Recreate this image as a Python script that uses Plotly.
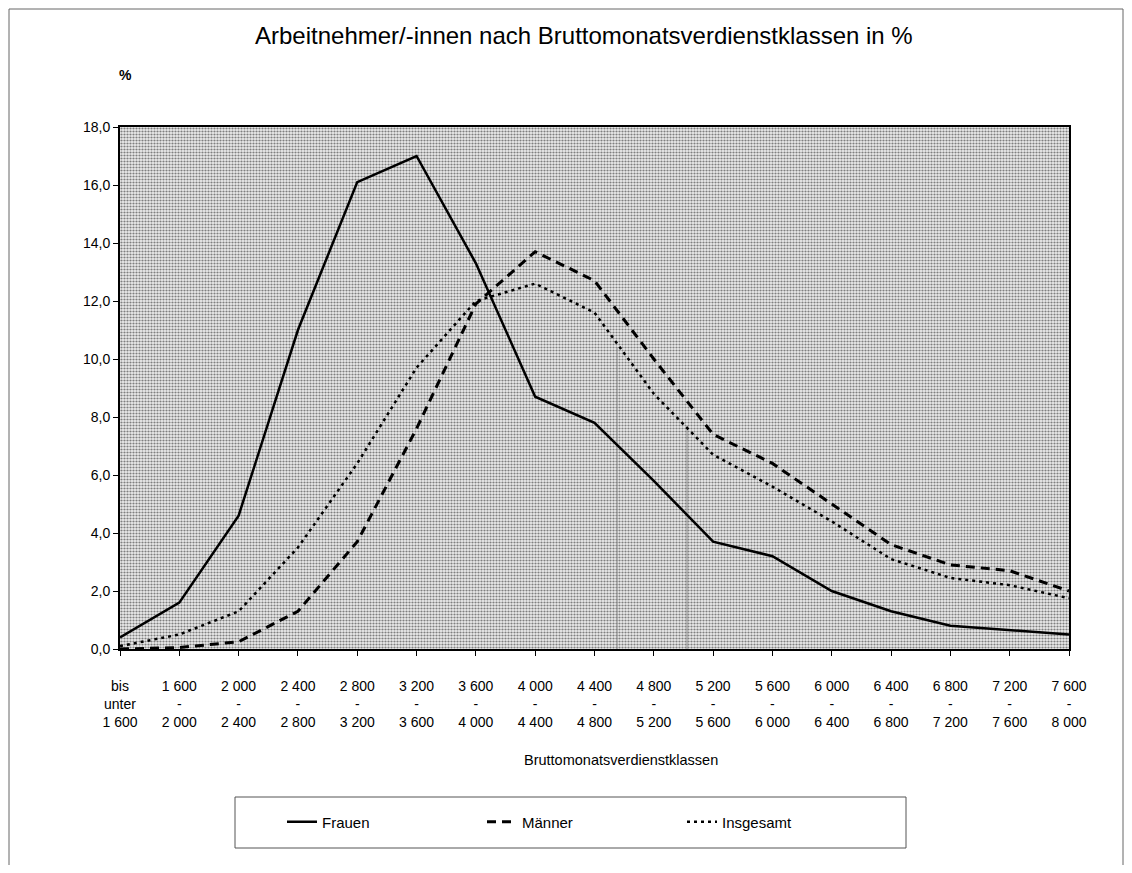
import plotly.graph_objects as go

# ---------------- data ----------------
categories = [
    "bis<br>unter<br>1 600", "1 600<br>-<br>2 000", "2 000<br>-<br>2 400", "2 400<br>-<br>2 800",
    "2 800<br>-<br>3 200", "3 200<br>-<br>3 600", "3 600<br>-<br>4 000", "4 000<br>-<br>4 400",
    "4 400<br>-<br>4 800", "4 800<br>-<br>5 200", "5 200<br>-<br>5 600", "5 600<br>-<br>6 000",
    "6 000<br>-<br>6 400", "6 400<br>-<br>6 800", "6 800<br>-<br>7 200", "7 200<br>-<br>7 600",
    "7 600<br>-<br>8 000",
]
frauen = [0.4, 1.6, 4.6, 11.0, 16.1, 17.0, 13.3, 8.7, 7.8, 5.8, 3.7, 3.2, 2.0, 1.3, 0.8, 0.65, 0.5]
maenner = [0.0, 0.05, 0.25, 1.3, 3.7, 7.6, 11.9, 13.7, 12.7, 10.0, 7.4, 6.4, 5.0, 3.6, 2.9, 2.7, 2.0]
insgesamt = [0.1, 0.5, 1.3, 3.5, 6.4, 9.7, 12.0, 12.6, 11.6, 8.8, 6.7, 5.6, 4.4, 3.1, 2.45, 2.2, 1.75]
y_tick_values = [0, 2, 4, 6, 8, 10, 12, 14, 16, 18]
# thin vertical drop lines (position in class units, top value in %)
drop_positions = [8.38, 9.56]
drop_tops = [10.4, 7.7]

title_text = "Arbeitnehmer/-innen nach Bruttomonatsverdienstklassen in %"
x_title = "Bruttomonatsverdienstklassen"

FONT = "Arial, 'Liberation Sans', sans-serif"
x_idx = list(range(len(categories)))
x_max = x_idx[-1]
y_max = y_tick_values[-1]

fig = go.Figure()

# stippled plot-area background
fig.add_trace(go.Scatter(
    x=[0, x_max, x_max, 0, 0], y=[0, 0, y_max, y_max, 0],
    mode="none", fill="toself",
    fillpattern=dict(shape=".", size=3, solidity=0.42, fgcolor="#111111", bgcolor="#ececec"),
    showlegend=False, hoverinfo="skip",
))

for xp, top in zip(drop_positions, drop_tops):
    fig.add_trace(go.Scatter(x=[xp, xp], y=[0, top], mode="lines",
                             line=dict(color="#8a8a8a", width=1),
                             showlegend=False, hoverinfo="skip"))

fig.add_trace(go.Scatter(x=x_idx, y=frauen, mode="lines", name="Frauen",
                         line=dict(color="black", width=2.5)))
fig.add_trace(go.Scatter(x=x_idx, y=maenner, mode="lines", name="Männer",
                         line=dict(color="black", width=3, dash="9px,6px")))
fig.add_trace(go.Scatter(x=x_idx, y=insgesamt, mode="lines", name="Insgesamt",
                         line=dict(color="black", width=2.5, dash="3px,4px")))

# The page body has an 8px margin: positions below are given in page pixels
OFF = 8
W, H = 1132 - 2 * OFF, 873 - 2 * OFF
PL, PR, PT, PB = 120, 1069, 127, 649          # plot area in page pixels
L, T = PL - OFF, PT - OFF
R = W - (PR - OFF)
B = H - (PB - OFF)
pw, ph = W - L - R, H - T - B

def px(x):
    return (x - OFF - L) / pw

def py(y):
    return (H - B - (y - OFF)) / ph

fig.update_layout(
    width=W, height=H,
    margin=dict(l=L, r=R, t=T, b=B),
    paper_bgcolor="white", plot_bgcolor="white",
    separators=",.",
    font=dict(family=FONT, size=14, color="black"),
    showlegend=True,
    legend=dict(orientation="h", x=px(282), y=py(822), xanchor="left", yanchor="middle",
                entrywidth=155, entrywidthmode="pixels", bgcolor="rgba(0,0,0,0)",
                borderwidth=0, font=dict(size=15, family=FONT)),
    xaxis=dict(range=[0, x_max], tickmode="array", tickvals=x_idx, ticktext=categories,
               showgrid=False, zeroline=False, showline=True, linecolor="black", linewidth=2,
               mirror=True, ticks="outside", ticklen=5, tickcolor="black",
               tickangle=0, ticklabelstandoff=18, tickfont=dict(size=14)),
    yaxis=dict(range=[0, y_max], tickmode="array", tickvals=y_tick_values, tickformat=".1f",
               showgrid=False, zeroline=False, showline=True, linecolor="black", linewidth=2,
               mirror=True, ticks="outside", ticklen=5, tickcolor="black",
               tickfont=dict(size=14)),
    annotations=[
        dict(text=title_text, xref="paper", yref="paper", x=px(584), y=py(35),
             showarrow=False, font=dict(size=24), xanchor="center", yanchor="middle"),
        dict(text="<b>%</b>", xref="paper", yref="paper", x=px(125), y=py(75),
             showarrow=False, font=dict(size=14), xanchor="center", yanchor="middle"),
        dict(text=x_title, xref="paper", yref="paper", x=px(621), y=py(760),
             showarrow=False, font=dict(size=14.5), xanchor="center", yanchor="middle"),
    ],
    shapes=[
        dict(type="rect", xref="paper", yref="paper", x0=px(235), x1=px(906), y0=py(848), y1=py(797),
             line=dict(color="#555555", width=1), fillcolor="rgba(0,0,0,0)"),
        dict(type="rect", xref="paper", yref="paper", x0=px(OFF + 1), x1=px(1123), y0=py(872), y1=py(OFF + 1),
             line=dict(color="#666666", width=1), fillcolor="rgba(0,0,0,0)"),
    ],
)

fig.write_html("out.html")
